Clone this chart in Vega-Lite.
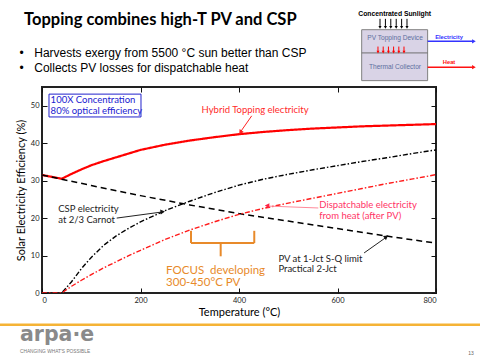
{
  "$schema": "https://vega.github.io/schema/vega-lite/v6.json",
  "width": 394,
  "height": 206,
  "autosize": {"type": "none"},
  "padding": {"left": 42, "top": 87, "right": 44, "bottom": 67},
  "background": "white",
  "config": {
    "view": {"stroke": "#222222", "strokeWidth": 2},
    "axis": {
      "domain": false,
      "grid": false,
      "tickColor": "#111111",
      "tickSize": -5,
      "labelFont": "Lato",
      "labelFontSize": 7.5,
      "labelColor": "#222222",
      "titleFont": "Lato",
      "titleFontSize": 11,
      "titleFontWeight": "normal",
      "titleColor": "#000000"
    },
    "text": {"baseline": "middle", "align": "left"}
  },
  "resolve": {
    "scale": {"color": "independent", "size": "independent", "angle": "independent", "strokeWidth": "independent", "strokeDash": "independent", "fill": "independent", "stroke": "independent"},
    "axis": {"x": "independent", "y": "independent"}
  },
  "datasets": {
    "curves": [
      {"s": "Hybrid", "T": 0, "v": 31.5}, {"s": "Hybrid", "T": 40, "v": 30.5}, {"s": "Hybrid", "T": 60, "v": 31.8},
      {"s": "Hybrid", "T": 80, "v": 33.0}, {"s": "Hybrid", "T": 100, "v": 34.1}, {"s": "Hybrid", "T": 125, "v": 35.2},
      {"s": "Hybrid", "T": 150, "v": 36.2}, {"s": "Hybrid", "T": 175, "v": 37.2}, {"s": "Hybrid", "T": 200, "v": 38.2},
      {"s": "Hybrid", "T": 250, "v": 39.6}, {"s": "Hybrid", "T": 300, "v": 40.7}, {"s": "Hybrid", "T": 350, "v": 41.6},
      {"s": "Hybrid", "T": 400, "v": 42.4}, {"s": "Hybrid", "T": 450, "v": 43.0}, {"s": "Hybrid", "T": 500, "v": 43.5},
      {"s": "Hybrid", "T": 550, "v": 43.9}, {"s": "Hybrid", "T": 600, "v": 44.2}, {"s": "Hybrid", "T": 650, "v": 44.5},
      {"s": "Hybrid", "T": 700, "v": 44.7}, {"s": "Hybrid", "T": 750, "v": 44.9}, {"s": "Hybrid", "T": 800, "v": 45.1},
      {"s": "PV", "T": 0, "v": 31.5}, {"s": "PV", "T": 100, "v": 28.7}, {"s": "PV", "T": 200, "v": 26.0},
      {"s": "PV", "T": 300, "v": 23.5}, {"s": "PV", "T": 400, "v": 21.2}, {"s": "PV", "T": 500, "v": 19.2},
      {"s": "PV", "T": 600, "v": 17.2}, {"s": "PV", "T": 700, "v": 15.2}, {"s": "PV", "T": 800, "v": 13.3},
      {"s": "CSP", "T": 0, "v": 0}, {"s": "CSP", "T": 40, "v": 0}, {"s": "CSP", "T": 60, "v": 3.0},
      {"s": "CSP", "T": 80, "v": 6.5}, {"s": "CSP", "T": 100, "v": 9.5}, {"s": "CSP", "T": 125, "v": 12.7},
      {"s": "CSP", "T": 150, "v": 15.2}, {"s": "CSP", "T": 175, "v": 17.2}, {"s": "CSP", "T": 200, "v": 19.0},
      {"s": "CSP", "T": 250, "v": 22.0}, {"s": "CSP", "T": 300, "v": 24.5}, {"s": "CSP", "T": 350, "v": 26.8},
      {"s": "CSP", "T": 400, "v": 28.8}, {"s": "CSP", "T": 450, "v": 30.4}, {"s": "CSP", "T": 500, "v": 31.7},
      {"s": "CSP", "T": 550, "v": 32.9}, {"s": "CSP", "T": 600, "v": 34.0}, {"s": "CSP", "T": 650, "v": 35.1},
      {"s": "CSP", "T": 700, "v": 36.1}, {"s": "CSP", "T": 750, "v": 37.2}, {"s": "CSP", "T": 800, "v": 38.2},
      {"s": "Dispatchable", "T": 0, "v": 0}, {"s": "Dispatchable", "T": 40, "v": 0}, {"s": "Dispatchable", "T": 60, "v": 1.8},
      {"s": "Dispatchable", "T": 80, "v": 3.4}, {"s": "Dispatchable", "T": 100, "v": 4.9}, {"s": "Dispatchable", "T": 125, "v": 6.7},
      {"s": "Dispatchable", "T": 150, "v": 8.3}, {"s": "Dispatchable", "T": 175, "v": 9.9}, {"s": "Dispatchable", "T": 200, "v": 11.4},
      {"s": "Dispatchable", "T": 250, "v": 14.3}, {"s": "Dispatchable", "T": 300, "v": 16.8}, {"s": "Dispatchable", "T": 350, "v": 19.0},
      {"s": "Dispatchable", "T": 400, "v": 21.0}, {"s": "Dispatchable", "T": 450, "v": 22.6}, {"s": "Dispatchable", "T": 500, "v": 24.0},
      {"s": "Dispatchable", "T": 550, "v": 25.3}, {"s": "Dispatchable", "T": 600, "v": 26.6}, {"s": "Dispatchable", "T": 650, "v": 27.9},
      {"s": "Dispatchable", "T": 700, "v": 29.2}, {"s": "Dispatchable", "T": 750, "v": 30.4}, {"s": "Dispatchable", "T": 800, "v": 31.6}
    ],
    "boxes": [
      {"k": "conc", "T": 14.2, "T2": 201, "v": 53.1, "v2": 47.0},
      {"k": "diagram", "T": 649.1, "T2": 783, "v": 70.3, "v2": 56.7}
    ],
    "segs": [
      {"k": "hybrid_arrow", "T": 425.8, "v": 47.3, "T2": 404, "v2": 43.2},
      {"k": "csp_arrow", "T": 151.7, "v": 20.0, "T2": 242, "v2": 21.6},
      {"k": "disp_arrow", "T": 561, "v": 22.7, "T2": 460, "v2": 23.2},
      {"k": "pv_arrow", "T": 654, "v": 10.7, "T2": 697, "v2": 14.7},
      {"k": "focus", "T": 302.5, "v": 16.6, "T2": 302.5, "v2": 13.35},
      {"k": "focus", "T": 302.5, "v": 13.35, "T2": 431, "v2": 13.35},
      {"k": "focus", "T": 431, "v": 13.35, "T2": 431, "v2": 16.6},
      {"k": "focus", "T": 362.8, "v": 13.35, "T2": 362.8, "v2": 9.8},
      {"k": "sun", "T": 686.3, "v": 73.2, "T2": 686.3, "v2": 71.3},
      {"k": "sun", "T": 697.3, "v": 73.2, "T2": 697.3, "v2": 71.3},
      {"k": "sun", "T": 708.2, "v": 73.2, "T2": 708.2, "v2": 71.3},
      {"k": "sun", "T": 719.2, "v": 73.2, "T2": 719.2, "v2": 71.3},
      {"k": "sun", "T": 730.2, "v": 73.2, "T2": 730.2, "v2": 71.3},
      {"k": "sun", "T": 741.1, "v": 73.2, "T2": 741.1, "v2": 71.3},
      {"k": "heatflow", "T": 682.2, "v": 65.8, "T2": 682.2, "v2": 64.6},
      {"k": "heatflow", "T": 692.8, "v": 65.8, "T2": 692.8, "v2": 64.6},
      {"k": "heatflow", "T": 703.4, "v": 65.8, "T2": 703.4, "v2": 64.6},
      {"k": "heatflow", "T": 713.9, "v": 65.8, "T2": 713.9, "v2": 64.6},
      {"k": "heatflow", "T": 724.5, "v": 65.8, "T2": 724.5, "v2": 64.6},
      {"k": "heatflow", "T": 735.0, "v": 65.8, "T2": 735.0, "v2": 64.6},
      {"k": "elec", "T": 783, "v": 67.2, "T2": 874, "v2": 67.2},
      {"k": "heat", "T": 783, "v": 60.3, "T2": 874, "v2": 60.3},
      {"k": "divider", "T": 649.1, "v": 64.1, "T2": 783, "v2": 64.1},
      {"k": "footer", "T": -86, "v": -8.5, "T2": 890, "v2": -8.5}
    ],
    "heads": [
      {"k": "hybrid_arrow", "T": 403, "v": 42.9},
      {"k": "csp_arrow", "T": 245, "v": 21.7},
      {"k": "disp_arrow", "T": 457, "v": 23.3},
      {"k": "pv_arrow", "T": 699, "v": 15.0},
      {"k": "sun", "T": 686.3, "v": 70.9}, {"k": "sun", "T": 697.3, "v": 70.9}, {"k": "sun", "T": 708.2, "v": 70.9},
      {"k": "sun", "T": 719.2, "v": 70.9}, {"k": "sun", "T": 730.2, "v": 70.9}, {"k": "sun", "T": 741.1, "v": 70.9},
      {"k": "heatflow", "T": 682.2, "v": 64.3}, {"k": "heatflow", "T": 692.8, "v": 64.3}, {"k": "heatflow", "T": 703.4, "v": 64.3},
      {"k": "heatflow", "T": 713.9, "v": 64.3}, {"k": "heatflow", "T": 724.5, "v": 64.3}, {"k": "heatflow", "T": 735.0, "v": 64.3},
      {"k": "elec", "T": 877, "v": 67.2},
      {"k": "heat", "T": 877, "v": 60.3}
    ],
    "labels": [
      {"k": "box", "t": "100X Concentration", "T": 17.5, "v": 51.4},
      {"k": "box", "t": "80% optical efficiency", "T": 17.5, "v": 48.6},
      {"k": "hybrid", "t": "Hybrid Topping electricity", "T": 324, "v": 48.9},
      {"k": "csp", "t": "CSP electricity", "T": 33, "v": 22.4},
      {"k": "csp", "t": "at 2/3 Carnot", "T": 33, "v": 19.6},
      {"k": "disp", "t": "Dispatchable electricity", "T": 563, "v": 23.6},
      {"k": "disp", "t": "from heat (after PV)", "T": 563, "v": 20.5},
      {"k": "pv", "t": "PV at 1-Jct S-Q limit", "T": 480, "v": 9.2},
      {"k": "pv", "t": "Practical 2-Jct", "T": 480, "v": 6.5},
      {"k": "focus", "t": "FOCUS\u00a0 developing", "T": 252, "v": 6.0},
      {"k": "focus", "t": "300-450°C PV", "T": 252, "v": 2.7},
      {"k": "title", "t": "Topping combines high-T PV and CSP", "T": -36.5, "v": 73.0},
      {"k": "bullet", "t": "Harvests exergy from 5500 °C sun better than CSP", "T": -15.8, "v": 64.1},
      {"k": "bullet", "t": "Collects PV losses for dispatchable heat", "T": -15.8, "v": 60.2},
      {"k": "dot", "t": "•", "T": -41.2, "v": 64.1},
      {"k": "dot", "t": "•", "T": -41.2, "v": 60.2},
      {"k": "diag_inner", "t": "PV Topping Device", "T": 716.8, "v": 68.1},
      {"k": "diag_inner", "t": "Thermal Collector", "T": 716.8, "v": 60.3},
      {"k": "page", "t": "13", "T": 871, "v": -15.9},
      {"k": "diag_head", "t": "Concentrated Sunlight", "T": 716.1, "v": 74.6},
      {"k": "elec_l", "t": "Electricity", "T": 826.4, "v": 68.4},
      {"k": "heat_l", "t": "Heat", "T": 826.4, "v": 61.7},
      {"k": "logo", "t": "arpa·e", "T": -44.7, "v": -12.7},
      {"k": "tagline", "t": "CHANGING WHAT'S POSSIBLE", "T": -44.7, "v": -15.8}
    ]
  },
  "layer": [
    {
      "data": {"name": "boxes"},
      "mark": {"type": "rect", "strokeWidth": 1},
      "encoding": {
        "x": {"field": "T", "type": "quantitative", "axis": {"orient": "top", "values": [0, 200, 400, 600, 800], "labels": false, "title": null}},
        "x2": {"field": "T2"},
        "y": {"field": "v", "type": "quantitative", "axis": {"orient": "right", "values": [0, 10, 20, 30, 40, 50], "labels": false, "title": null}},
        "y2": {"field": "v2"},
        "fill": {"field": "k", "type": "nominal", "scale": {"type": "ordinal", "domain": ["conc", "diagram"], "range": ["#ffffff", "#d9d3e6"]}, "legend": null},
        "stroke": {"field": "k", "type": "nominal", "scale": {"type": "ordinal", "domain": ["conc", "diagram"], "range": ["#2222cc", "#808080"]}, "legend": null}
      }
    },
    {
      "data": {"name": "curves"},
      "mark": {"type": "line", "clip": true},
      "encoding": {
        "x": {"field": "T", "type": "quantitative", "scale": {"domain": [0, 800], "nice": false},
              "axis": {"orient": "bottom", "values": [0, 200, 400, 600, 800], "title": "Temperature (°C)", "labelPadding": 8, "titlePadding": 3}},
        "y": {"field": "v", "type": "quantitative", "scale": {"domain": [0, 55], "nice": false},
              "axis": {"orient": "left", "values": [0, 10, 20, 30, 40, 50], "title": "Solar Electricity Efficiency (%)", "labelPadding": 8, "titlePadding": 4}},
        "detail": {"field": "s"},
        "color": {"field": "s", "type": "nominal", "scale": {"type": "ordinal", "domain": ["Hybrid", "PV", "CSP", "Dispatchable"], "range": ["#ff0000", "#000000", "#000000", "#ff1a1a"]}, "legend": null},
        "strokeDash": {"field": "s", "type": "nominal", "scale": {"type": "ordinal", "domain": ["Hybrid", "PV", "CSP", "Dispatchable"], "range": [[1, 0], [6, 4], [5, 2, 1.5, 2], [5, 2, 1.5, 2]]}, "legend": null},
        "strokeWidth": {"field": "s", "type": "nominal", "scale": {"type": "ordinal", "domain": ["Hybrid", "PV", "CSP", "Dispatchable"], "range": [2.2, 1.5, 1.4, 1.4]}, "legend": null}
      }
    },
    {
      "data": {"name": "segs"},
      "mark": {"type": "rule"},
      "encoding": {
        "x": {"field": "T", "type": "quantitative", "axis": null},
        "x2": {"field": "T2"},
        "y": {"field": "v", "type": "quantitative", "axis": null},
        "y2": {"field": "v2"},
        "color": {"field": "k", "type": "nominal", "scale": {"type": "ordinal", "domain": ["hybrid_arrow", "csp_arrow", "disp_arrow", "pv_arrow", "focus", "sun", "heatflow", "elec", "heat", "divider", "footer"], "range": ["#ff2222", "#222222", "#ff8a9a", "#222222", "#e88a2a", "#000000", "#ff0000", "#3333ff", "#ff1111", "#707070", "#f5b335"]}, "legend": null},
        "strokeWidth": {"field": "k", "type": "nominal", "scale": {"type": "ordinal", "domain": ["hybrid_arrow", "csp_arrow", "disp_arrow", "pv_arrow", "focus", "sun", "heatflow", "elec", "heat", "divider", "footer"], "range": [1, 1, 1, 1, 2, 1, 1, 1.5, 1.5, 1, 2.5]}, "legend": null}
      }
    },
    {
      "data": {"name": "heads"},
      "mark": {"type": "point", "filled": true, "shape": "triangle-right", "opacity": 1},
      "encoding": {
        "x": {"field": "T", "type": "quantitative", "axis": null},
        "y": {"field": "v", "type": "quantitative", "axis": null},
        "angle": {"field": "k", "type": "nominal", "scale": {"type": "ordinal", "domain": ["hybrid_arrow", "csp_arrow", "disp_arrow", "pv_arrow", "sun", "heatflow", "elec", "heat"], "range": [124, 352, 183, 324, 90, 90, 0, 0]}, "legend": null},
        "color": {"field": "k", "type": "nominal", "scale": {"type": "ordinal", "domain": ["hybrid_arrow", "csp_arrow", "disp_arrow", "pv_arrow", "sun", "heatflow", "elec", "heat"], "range": ["#ff2222", "#111111", "#ff2244", "#111111", "#000000", "#ff0000", "#3333ff", "#ff1111"]}, "legend": null},
        "size": {"field": "k", "type": "nominal", "scale": {"type": "ordinal", "domain": ["hybrid_arrow", "csp_arrow", "disp_arrow", "pv_arrow", "sun", "heatflow", "elec", "heat"], "range": [26, 26, 26, 26, 10, 9, 18, 18]}, "legend": null}
      }
    },
    {
      "data": {"name": "labels"},
      "transform": [{"filter": {"field": "k", "equal": "box"}}],
      "mark": {"type": "text", "font": "Lato", "fontSize": 9.5, "color": "#2020d0"},
      "encoding": {"x": {"field": "T", "type": "quantitative", "axis": null}, "y": {"field": "v", "type": "quantitative", "axis": null}, "text": {"field": "t"}}
    },
    {
      "data": {"name": "labels"},
      "transform": [{"filter": {"field": "k", "equal": "hybrid"}}],
      "mark": {"type": "text", "font": "Lato", "fontSize": 9.5, "color": "#ff2a2a"},
      "encoding": {"x": {"field": "T", "type": "quantitative", "axis": null}, "y": {"field": "v", "type": "quantitative", "axis": null}, "text": {"field": "t"}}
    },
    {
      "data": {"name": "labels"},
      "transform": [{"filter": {"field": "k", "oneOf": ["csp", "pv"]}}],
      "mark": {"type": "text", "font": "Lato", "fontSize": 9.5, "color": "#222222"},
      "encoding": {"x": {"field": "T", "type": "quantitative", "axis": null}, "y": {"field": "v", "type": "quantitative", "axis": null}, "text": {"field": "t"}}
    },
    {
      "data": {"name": "labels"},
      "transform": [{"filter": {"field": "k", "equal": "disp"}}],
      "mark": {"type": "text", "font": "Lato", "fontSize": 9.5, "color": "#ff3366"},
      "encoding": {"x": {"field": "T", "type": "quantitative", "axis": null}, "y": {"field": "v", "type": "quantitative", "axis": null}, "text": {"field": "t"}}
    },
    {
      "data": {"name": "labels"},
      "transform": [{"filter": {"field": "k", "equal": "focus"}}],
      "mark": {"type": "text", "font": "Lato", "fontSize": 11.5, "color": "#e88a2a"},
      "encoding": {"x": {"field": "T", "type": "quantitative", "axis": null}, "y": {"field": "v", "type": "quantitative", "axis": null}, "text": {"field": "t"}}
    },
    {
      "data": {"name": "labels"},
      "transform": [{"filter": {"field": "k", "equal": "title"}}],
      "mark": {"type": "text", "font": "Lato", "fontWeight": "bold", "fontSize": 16.5, "color": "#000000"},
      "encoding": {"x": {"field": "T", "type": "quantitative", "axis": null}, "y": {"field": "v", "type": "quantitative", "axis": null}, "text": {"field": "t"}}
    },
    {
      "data": {"name": "labels"},
      "transform": [{"filter": {"field": "k", "equal": "bullet"}}],
      "mark": {"type": "text", "font": "Liberation Sans", "fontSize": 12, "color": "#000000"},
      "encoding": {"x": {"field": "T", "type": "quantitative", "axis": null}, "y": {"field": "v", "type": "quantitative", "axis": null}, "text": {"field": "t"}}
    },
    {
      "data": {"name": "labels"},
      "transform": [{"filter": {"field": "k", "equal": "dot"}}],
      "mark": {"type": "text", "align": "center", "font": "Liberation Sans", "fontSize": 12, "color": "#000000"},
      "encoding": {"x": {"field": "T", "type": "quantitative", "axis": null}, "y": {"field": "v", "type": "quantitative", "axis": null}, "text": {"field": "t"}}
    },
    {
      "data": {"name": "labels"},
      "transform": [{"filter": {"field": "k", "equal": "diag_inner"}}],
      "mark": {"type": "text", "align": "center", "font": "Liberation Sans", "fontSize": 6.6, "color": "#5d6fa0"},
      "encoding": {"x": {"field": "T", "type": "quantitative", "axis": null}, "y": {"field": "v", "type": "quantitative", "axis": null}, "text": {"field": "t"}}
    },
    {
      "data": {"name": "labels"},
      "transform": [{"filter": {"field": "k", "equal": "page"}}],
      "mark": {"type": "text", "align": "center", "font": "Liberation Sans", "fontSize": 5, "color": "#666666"},
      "encoding": {"x": {"field": "T", "type": "quantitative", "axis": null}, "y": {"field": "v", "type": "quantitative", "axis": null}, "text": {"field": "t"}}
    },
    {
      "data": {"name": "labels"},
      "transform": [{"filter": {"field": "k", "equal": "diag_head"}}],
      "mark": {"type": "text", "align": "center", "font": "Liberation Sans", "fontWeight": "bold", "fontSize": 6.8, "color": "#000000"},
      "encoding": {"x": {"field": "T", "type": "quantitative", "axis": null}, "y": {"field": "v", "type": "quantitative", "axis": null}, "text": {"field": "t"}}
    },
    {
      "data": {"name": "labels"},
      "transform": [{"filter": {"field": "k", "equal": "elec_l"}}],
      "mark": {"type": "text", "align": "center", "font": "Liberation Sans", "fontWeight": "bold", "fontSize": 5.8, "color": "#3333ff"},
      "encoding": {"x": {"field": "T", "type": "quantitative", "axis": null}, "y": {"field": "v", "type": "quantitative", "axis": null}, "text": {"field": "t"}}
    },
    {
      "data": {"name": "labels"},
      "transform": [{"filter": {"field": "k", "equal": "heat_l"}}],
      "mark": {"type": "text", "align": "center", "font": "Liberation Sans", "fontWeight": "bold", "fontSize": 5.8, "color": "#ff1111"},
      "encoding": {"x": {"field": "T", "type": "quantitative", "axis": null}, "y": {"field": "v", "type": "quantitative", "axis": null}, "text": {"field": "t"}}
    },
    {
      "data": {"name": "labels"},
      "transform": [{"filter": {"field": "k", "equal": "logo"}}],
      "mark": {"type": "text", "baseline": "alphabetic", "font": "DejaVu Sans", "fontWeight": "bold", "fontSize": 20.5, "color": "#8a8a8a"},
      "encoding": {"x": {"field": "T", "type": "quantitative", "axis": null}, "y": {"field": "v", "type": "quantitative", "axis": null}, "text": {"field": "t"}}
    },
    {
      "data": {"name": "labels"},
      "transform": [{"filter": {"field": "k", "equal": "tagline"}}],
      "mark": {"type": "text", "font": "Liberation Sans", "fontSize": 4.8, "color": "#777777"},
      "encoding": {"x": {"field": "T", "type": "quantitative", "axis": null}, "y": {"field": "v", "type": "quantitative", "axis": null}, "text": {"field": "t"}}
    }
  ]
}
